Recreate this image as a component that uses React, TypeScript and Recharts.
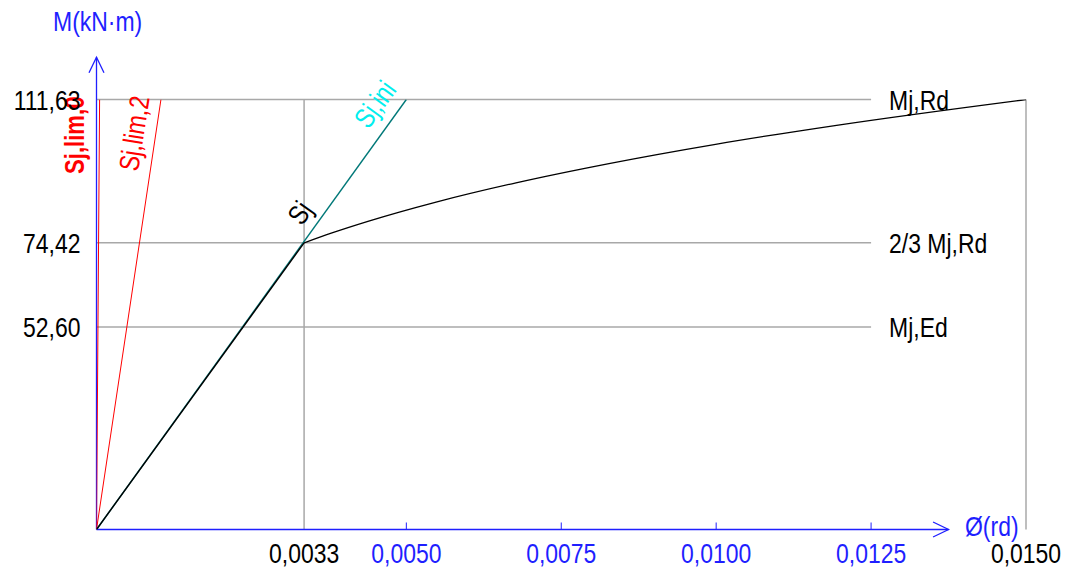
import React from "react"
import { ComposedChart, Line, XAxis, YAxis, ReferenceLine, ReferenceDot } from "recharts"

const FONT = "'Liberation Sans', Arial, sans-serif"
const BLUE = "#1f1fff"
const GRID = "#a8a8a8"
const SQUEEZE = 0.82 // the reference uses a narrow face

// moment levels (kN·m)
const mjRd = 111.63
const mjRd23 = 74.42
const mjEd = 52.6

// rotation ticks (rd)
const xTicks = [0.00335, 0.005, 0.0075, 0.01, 0.0125, 0.015]
const xTickLabels = ["0,0033", "0,0050", "0,0075", "0,0100", "0,0125", "0,0150"]
const xTickBlack = [true, false, false, false, false, true]
const yTicks = [mjEd, mjRd23, mjRd]
const yTickLabels = ["52,60", "74,42", "111,63"]

// stiffness lines
const sjLim0 = [{ x: 0, y: 0 }, { x: 0.00005, y: 111.63 }]
const sjLim2 = [{ x: 0, y: 0 }, { x: 0.00104, y: 111.63 }]
const sjIni = [{ x: 0, y: 0 }, { x: 0.005, y: 111.63 }]
const sjLinear = [{ x: 0, y: 0 }, { x: 0.00335, y: 74.42 }]

// non-linear part of the M-phi curve
const curvePhi = [0.00335, 0.0038, 0.00438, 0.00548, 0.00677, 0.00827, 0.00999, 0.01197, 0.015]
const curveM = [74.42, 77, 80, 85, 90, 95, 100, 105, 111.63]
const curve = curvePhi.map((x, i) => ({ x, y: curveM[i] }))

const NText = ({ x, y, angle = 0, anchor = "start", fill = "#000", size = 28, bold = false, children }: any) => (
  <text
    transform={`translate(${x} ${y}) rotate(${angle}) scale(${SQUEEZE} 1)`}
    textAnchor={anchor}
    fontFamily={FONT}
    fontSize={size}
    fontWeight={bold ? "bold" : "normal"}
    fill={fill}
  >
    {children}
  </text>
)

const Arrow = (dir: "up" | "right") => (p: any) => {
  const { x1, y1, x2, y2 } = p
  const tx = dir === "up" ? x1 : Math.max(x1, x2)
  const ty = dir === "up" ? Math.min(y1, y2) : y1
  const head =
    dir === "up"
      ? `M${tx - 7.5},${ty + 15.5} L${tx},${ty} L${tx + 7.5},${ty + 15.5}`
      : `M${tx - 15.5},${ty - 7.5} L${tx},${ty} L${tx - 15.5},${ty + 7.5}`
  return (
    <g>
      <line x1={x1} y1={y1} x2={x2} y2={y2} stroke={BLUE} strokeWidth={1.3} />
      <path d={head} fill="none" stroke={BLUE} strokeWidth={1.3} />
    </g>
  )
}

const XTick = (p: any) => {
  const { x, y, index } = p
  const black = xTickBlack[index]
  return (
    <g>
      {!black && <line x1={x} y1={y - 7} x2={x} y2={y} stroke={BLUE} strokeWidth={1} />}
      <NText x={x} y={y + 33} anchor="middle" fill={black ? "#000" : BLUE}>
        {xTickLabels[index]}
      </NText>
    </g>
  )
}

const YTick = (p: any) => {
  const { x, y, index } = p
  return (
    <NText x={x} y={y + 10} anchor="end">
      {yTickLabels[index]}
    </NText>
  )
}

const tag = (text: string, color: string, angle: number, dx: number, dy: number, bold = false, size = 28) => (p: any) => (
  <NText x={p.cx + dx} y={p.cy + dy} angle={angle} fill={color} bold={bold} size={size}>
    {text}
  </NText>
)

export default function App() {
  return (
    <div style={{ position: "absolute", left: 0, top: 0, width: 1067, height: 568, background: "#fff" }}>
      <ComposedChart width={1067} height={568} margin={{ top: 99.5, right: 41, bottom: 0, left: 0 }}>
        <XAxis
          type="number"
          dataKey="x"
          domain={[0, 0.015]}
          ticks={xTicks}
          axisLine={false}
          tickLine={false}
          tickSize={0}
          tickMargin={0}
          height={38.5}
          tick={<XTick />}
          interval={0}
          allowDataOverflow
        />
        <YAxis
          type="number"
          dataKey="y"
          domain={[0, mjRd]}
          ticks={yTicks}
          axisLine={false}
          tickLine={false}
          tickSize={0}
          tickMargin={16}
          width={96.5}
          interval={0}
          allowDataOverflow
          tick={<YTick />}
        />

        {/* grid lines */}
        <ReferenceLine segment={[{ x: 0, y: mjRd }, { x: 0.0125, y: mjRd }]} stroke={GRID} strokeWidth={1.5} />
        <ReferenceLine segment={[{ x: 0, y: mjRd23 }, { x: 0.0125, y: mjRd23 }]} stroke={GRID} strokeWidth={1.5} />
        <ReferenceLine segment={[{ x: 0, y: mjEd }, { x: 0.0125, y: mjEd }]} stroke={GRID} strokeWidth={1.5} />
        <ReferenceLine segment={[{ x: 0.00335, y: 0 }, { x: 0.00335, y: mjRd }]} stroke={GRID} strokeWidth={1.5} />
        <ReferenceLine segment={[{ x: 0.015, y: 0 }, { x: 0.015, y: mjRd }]} stroke={GRID} strokeWidth={1.5} ifOverflow="visible" />

        {/* axes with arrows */}
        <ReferenceLine segment={[{ x: 0, y: 0 }, { x: 0, y: 122.6 }]} ifOverflow="visible" shape={Arrow("up")} />
        <ReferenceLine segment={[{ x: 0, y: 0 }, { x: 0.01375, y: 0 }]} ifOverflow="visible" shape={Arrow("right")} />

        <Line data={sjLim0} dataKey="y" type="linear" stroke="#ff0000" strokeWidth={1} dot={false} isAnimationActive={false} />
        <Line data={sjLim2} dataKey="y" type="linear" stroke="#ff0000" strokeWidth={1} dot={false} isAnimationActive={false} />
        <Line data={sjIni} dataKey="y" type="linear" stroke="#007878" strokeWidth={1.4} dot={false} isAnimationActive={false} />
        <Line data={sjLinear} dataKey="y" type="linear" stroke="#000" strokeWidth={1.4} dot={false} isAnimationActive={false} />
        <Line data={curve} dataKey="y" type="monotone" stroke="#000" strokeWidth={1.3} dot={false} isAnimationActive={false} />

        {/* level labels */}
        <ReferenceDot x={0.0125} y={mjRd} r={0} ifOverflow="visible" shape={tag("Mj,Rd", "#000", 0, 18, 10)} />
        <ReferenceDot x={0.0125} y={mjRd23} r={0} ifOverflow="visible" shape={tag("2/3 Mj,Rd", "#000", 0, 18, 10)} />
        <ReferenceDot x={0.0125} y={mjEd} r={0} ifOverflow="visible" shape={tag("Mj,Ed", "#000", 0, 18, 10)} />

        {/* line labels */}
        <ReferenceDot x={0} y={mjRd} r={0} ifOverflow="visible" shape={tag("Sj,lim,0", "#ff0000", -90, -12.5, 74.5, true, 27)} />
        <ReferenceDot x={0} y={mjRd} r={0} ifOverflow="visible" shape={tag("Sj,lim,2", "#ff0000", -81, 41.5, 72.5)} />
        <ReferenceDot x={0.00335} y={mjRd23} r={0} ifOverflow="visible" shape={tag("Sj", "#000", -55, -2, -16)} />
        <ReferenceDot x={0.005} y={mjRd} r={0} ifOverflow="visible" shape={tag("Sj,ini", "#00eeee", -54, -38, 30.5)} />
      </ComposedChart>
      <div style={{ position: "absolute", left: 53, top: 6, color: BLUE, fontFamily: FONT, fontSize: 28, transform: `scaleX(${SQUEEZE})`, transformOrigin: "left top", whiteSpace: "nowrap" }}>
        M(kN·m)
      </div>
      <div style={{ position: "absolute", left: 965, top: 511, color: BLUE, fontFamily: FONT, fontSize: 28, transform: `scaleX(${SQUEEZE})`, transformOrigin: "left top", whiteSpace: "nowrap" }}>
        Ø(rd)
      </div>
    </div>
  )
}
